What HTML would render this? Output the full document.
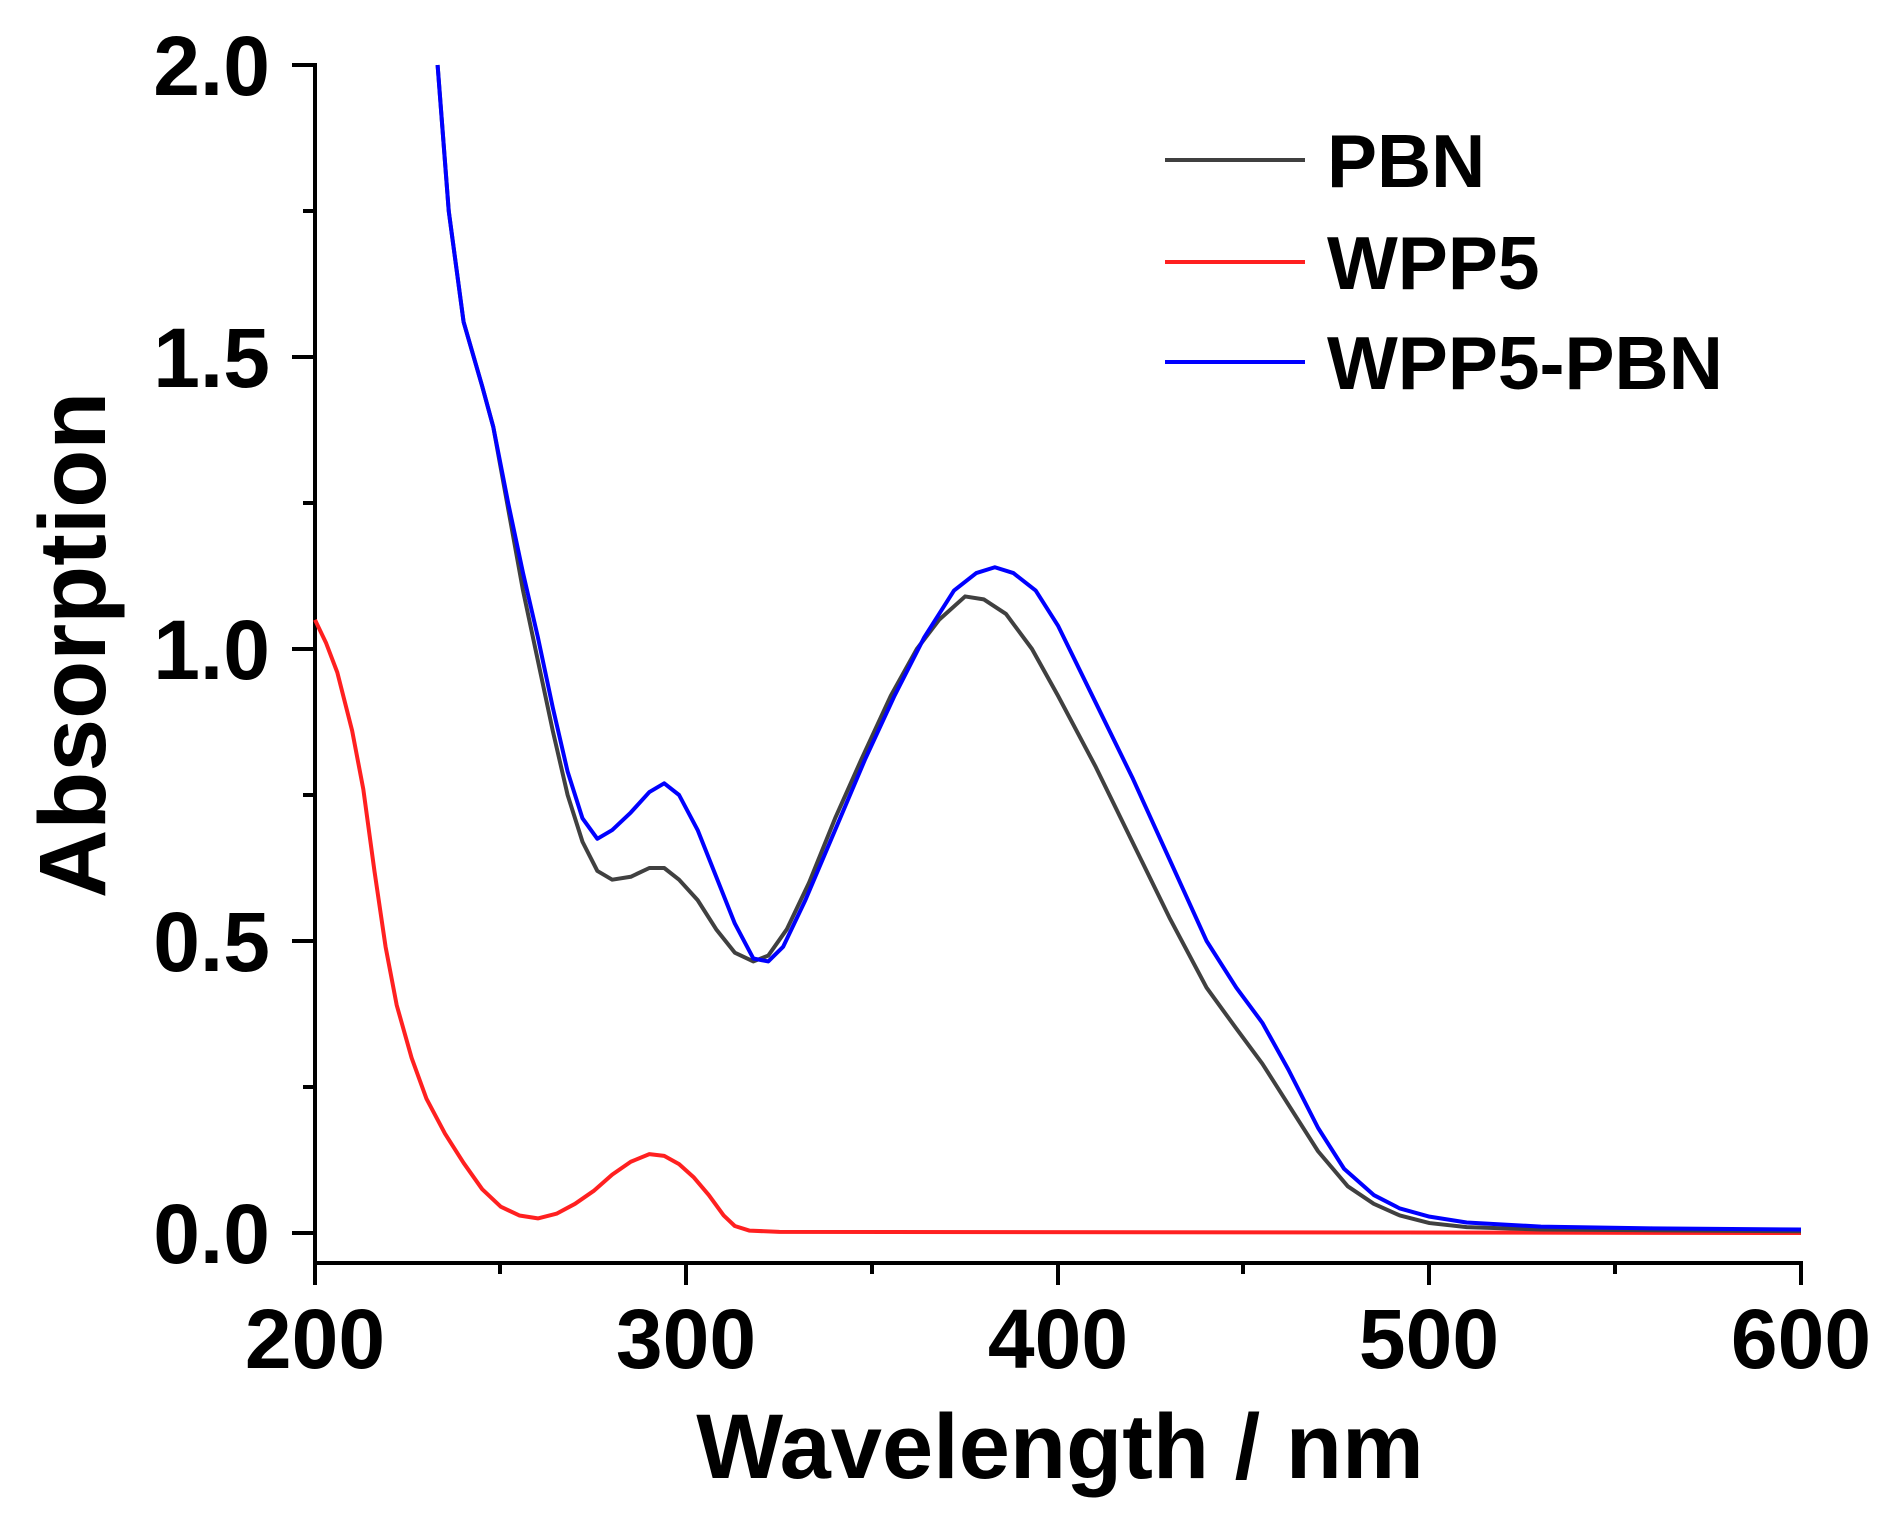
<!DOCTYPE html>
<html><head><meta charset="utf-8"><style>
html,body{margin:0;padding:0;background:#fff}
svg{display:block}
text{font-family:"Liberation Sans",Arial,sans-serif;font-weight:bold;fill:#000}
</style></head><body>
<svg width="1900" height="1516" viewBox="0 0 1900 1516" xmlns="http://www.w3.org/2000/svg">
<g stroke="#000" stroke-width="4" fill="none">
<path d="M315,63 V1285 M313,1263 H1803"/>
<path d="M292,65 H315 M292,357 H315 M292,649 H315 M292,941 H315 M292,1233 H315"/>
<path d="M303,211 H315 M303,503 H315 M303,795 H315 M303,1087 H315"/>
<path d="M686,1263 V1285 M1058,1263 V1285 M1429,1263 V1285 M1801,1261 V1285"/>
<path d="M500,1263 V1274 M872,1263 V1274 M1243,1263 V1274 M1615,1263 V1274"/>
</g>
<g font-size="84" text-anchor="end">
<text x="270" y="95">2.0</text>
<text x="270" y="387">1.5</text>
<text x="270" y="679">1.0</text>
<text x="270" y="971">0.5</text>
<text x="270" y="1263">0.0</text>
</g>
<g font-size="84" text-anchor="middle">
<text x="315" y="1368">200</text>
<text x="686" y="1368">300</text>
<text x="1058" y="1368">400</text>
<text x="1429" y="1368">500</text>
<text x="1801" y="1368">600</text>
</g>
<text x="1060" y="1478" font-size="92" text-anchor="middle">Wavelength / nm</text>
<text transform="translate(105,645) rotate(-90)" font-size="95" text-anchor="middle">Absorption</text>
<g transform="matrix(3.715 0 0 -584 -428 1233)" fill="none" stroke-width="4" stroke-linejoin="round">
<polyline vector-effect="non-scaling-stroke" stroke="#ff2020" points="200,1.05 203,1.01 206,0.96 210,0.86 213,0.76 216,0.62 219,0.49 222,0.39 226,0.30 230,0.23 235,0.17 240,0.12 245,0.075 250,0.045 255,0.03 260,0.025 265,0.033 270,0.05 275,0.072 280,0.1 285,0.122 290,0.135 294,0.132 298,0.118 302,0.095 306,0.065 310,0.03 313,0.012 317,0.004 325,0.002 600,0"/>
<polyline vector-effect="non-scaling-stroke" stroke="#404040" points="233,2.0 236,1.75 240,1.56 245,1.45 248,1.38 252,1.24 256,1.1 260,0.98 264,0.86 268,0.75 272,0.67 276,0.62 280,0.605 285,0.61 290,0.625 294,0.625 298,0.605 303,0.57 308,0.52 313,0.48 318,0.465 322,0.475 327,0.52 333,0.6 340,0.71 347,0.81 355,0.92 362,1.0 368,1.05 375,1.09 380,1.085 386,1.06 393,1.0 400,0.92 410,0.8 420,0.67 430,0.54 440,0.42 448,0.35 455,0.29 462,0.22 470,0.14 478,0.08 485,0.05 492,0.03 500,0.017 510,0.01 530,0.006 600,0.003"/>
<polyline vector-effect="non-scaling-stroke" stroke="#0000ff" points="233,2.0 236,1.75 240,1.56 245,1.45 248,1.38 252,1.25 256,1.13 260,1.02 264,0.9 268,0.79 272,0.71 276,0.675 280,0.69 285,0.72 290,0.755 294,0.77 298,0.75 303,0.69 308,0.61 313,0.53 318,0.47 322,0.465 326,0.49 332,0.57 340,0.69 348,0.81 356,0.92 364,1.02 372,1.1 378,1.13 383,1.14 388,1.13 394,1.1 400,1.04 410,0.91 420,0.78 430,0.64 440,0.5 448,0.42 455,0.36 462,0.28 470,0.18 477,0.11 485,0.065 492,0.042 500,0.028 510,0.018 530,0.011 560,0.008 600,0.006"/>
</g>
<g stroke-width="4">
<line x1="1165" y1="160" x2="1305" y2="160" stroke="#404040"/>
<line x1="1165" y1="262" x2="1305" y2="262" stroke="#ff2020"/>
<line x1="1165" y1="362" x2="1305" y2="362" stroke="#0000ff"/>
</g>
<g font-size="75">
<text x="1327" y="187">PBN</text>
<text x="1327" y="289">WPP5</text>
<text x="1327" y="389">WPP5-PBN</text>
</g>
</svg>
</body></html>
